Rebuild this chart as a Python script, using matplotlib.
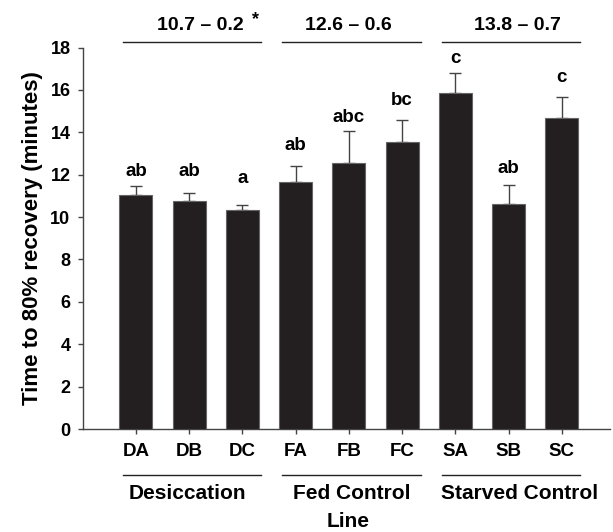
import matplotlib
matplotlib.use("Agg")
import matplotlib.pyplot as plt
import matplotlib.transforms as mtransforms
import numpy as np

# ---- data ----
lines = ["DA", "DB", "DC", "FA", "FB", "FC", "SA", "SB", "SC"]
means = [11.05, 10.75, 10.32, 11.65, 12.57, 13.56, 15.87, 10.63, 14.67]
errors = [0.43, 0.40, 0.25, 0.76, 1.49, 1.00, 0.93, 0.88, 1.00]
letters = ["ab", "ab", "a", "ab", "abc", "bc", "c", "ab", "c"]
groups = ["Desiccation", "Fed Control", "Starved Control"]
group_stats = ["10.7 \u2013 0.2", "12.6 \u2013 0.6", "13.8 \u2013 0.7"]
group_marks = ["*", "", ""]
yticks = [0, 2, 4, 6, 8, 10, 12, 14, 16, 18]

# ---- layout (not data) ----
letter_y = [11.95, 11.95, 11.6, 13.17, 14.5, 15.29, 17.29, 12.08, 16.39]
stat_x = [2.21, 5.0, 8.16]
group_label_x = [1.96, 5.05, 8.21]

plt.rcParams["font.family"] = ["Liberation Sans", "DejaVu Sans"]
plt.rcParams["font.weight"] = "bold"

fig = plt.figure(figsize=(6.13, 5.32), dpi=100)
ax = fig.add_axes([0.1349, 0.1936, 0.8597, 0.7171])

x = np.arange(1, len(lines) + 1)
ax.bar(x, means, width=0.62, color="#231f20", edgecolor="#666666",
       linewidth=0.8, zorder=3)
ax.errorbar(x, means, yerr=[np.zeros(len(errors)), errors], fmt="none",
            ecolor="#444444", elinewidth=1.0, capsize=4.3, capthick=1.0,
            zorder=2)

for xi, lab, ly in zip(x, letters, letter_y):
    ax.text(xi, ly, lab, ha="center", va="baseline", fontsize=13.5,
            fontweight="bold", clip_on=False)

ax.set_xlim(0, 9.9)
ax.set_ylim(0, 18)
ax.set_yticks(yticks)
ax.set_yticklabels([str(t) for t in yticks])
ax.set_xticks(x)
ax.set_xticklabels(lines)

for s in ["top", "right"]:
    ax.spines[s].set_visible(False)
for s in ["left", "bottom"]:
    ax.spines[s].set_color("#444444")
    ax.spines[s].set_linewidth(1.0)

ax.tick_params(axis="y", direction="out", length=3.8, width=1.0,
               color="#444444", pad=5, labelsize=13)
ax.tick_params(axis="x", direction="out", length=3.8, width=1.0,
               color="#444444", pad=6, labelsize=13.5)
for lab in ax.get_xticklabels() + ax.get_yticklabels():
    lab.set_fontweight("bold")

ax.set_ylabel("Time to 80% recovery (minutes)", fontsize=16,
              fontweight="bold", labelpad=5)

trans = mtransforms.blended_transform_factory(ax.transData, ax.transAxes)
group_centers = [2, 5, 8]
for gc, stat, mark, sx, gx, gname in zip(group_centers, group_stats,
                                         group_marks, stat_x,
                                         group_label_x, groups):
    x0, x1 = gc - 1.25, gc + 1.35
    # top line and stats
    ax.plot([x0, x1], [18.25, 18.25], color="#222222", lw=1.0,
            clip_on=False)
    ax.text(sx, 18.83, stat, ha="center", va="baseline", fontsize=14,
            fontweight="bold")
    if mark:
        ax.text(gc + 1.25, 19.1, mark, ha="center", va="baseline",
                fontsize=13, fontweight="bold")
    # bottom line and group label
    ax.plot([x0, x1], [-0.1206, -0.1206], color="#222222", lw=1.0,
            transform=trans, clip_on=False)
    ax.text(gx, -0.1835, gname, ha="center", va="baseline",
            fontsize=15, fontweight="bold", transform=trans)

ax.text(4.99, -0.257, "Line", ha="center", va="baseline", fontsize=15,
        fontweight="bold", transform=trans)

fig.savefig("out.png", dpi=100)
